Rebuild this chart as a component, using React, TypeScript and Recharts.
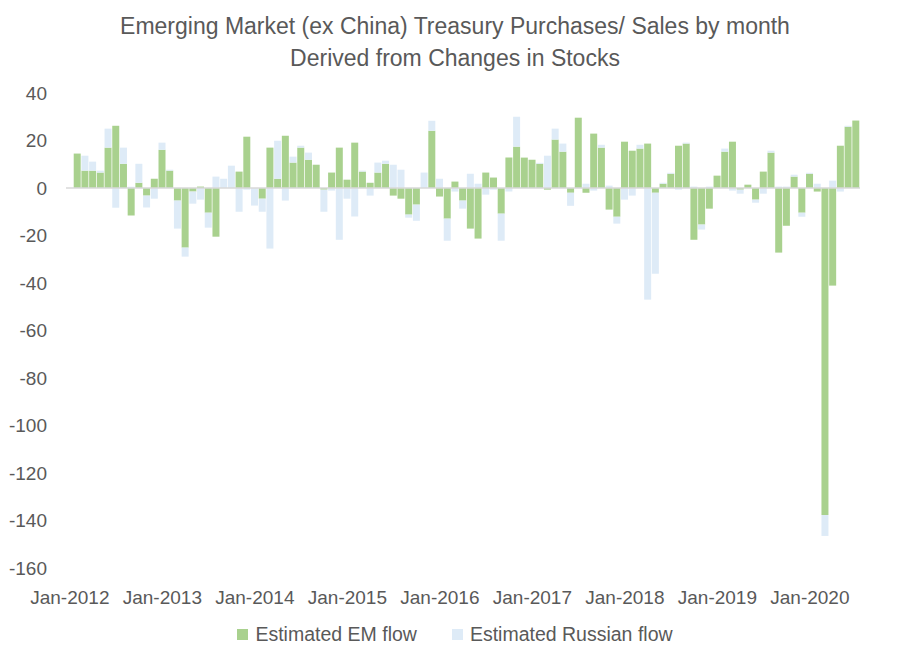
import { BarChart, Bar, XAxis, YAxis, ReferenceLine, Legend } from 'recharts';

const MONTHS = ['Jan', 'Feb', 'Mar', 'Apr', 'May', 'Jun', 'Jul', 'Aug', 'Sep', 'Oct', 'Nov', 'Dec'];
const YEARS = [2012, 2013, 2014, 2015, 2016, 2017, 2018, 2019, 2020];

// Jan-2012 .. Jul-2020
const categories = YEARS.flatMap((y) => MONTHS.map((m) => `${m}-${y}`)).slice(0, 103);

const emFlow: (number | null)[] = [
  null, 14.5, 7.3, 7.3, 6.5, 17, 26.2, 10.2, -11.6, 2.2, -3.2, 3.9,
  16.1, 7.3, -5.3, -25.1, -1.5, 0.6, -10.4, -20.5, 0, 0, 6.9, 21.6,
  0, -4.5, 17, 3.9, 22, 10.7, 17, 11.9, 9.8, -0.7, 6.5, 17,
  3.5, 19.1, 6.9, 2.2, 6.5, 10.2, -3.2, -4.5, -11.2, -7, 0, 24.1,
  -3.6, -12.9, 2.7, -5.3, -17.1, -21.3, 6.5, 4.4, -10.8, 12.8, 17.4, 12.8,
  11.9, 10.2, -0.7, 20.4, 15.3, -2, 29.6, -2, 22.9, 17, -9.1, -12.1,
  19.5, 15.7, 16.6, 18.7, -2, 1.8, 6, 17.8, 18.7, -21.8, -15.4, -8.7,
  5.2, 15.3, 19.5, -0.7, 1.4, -4.9, 6.9, 14.9, -27.2, -15.9, 4.8, -10.4,
  6, -1.5, -137.7, -41.1, 17.8, 25.8, 28.4,
];

const russianFlow: (number | null)[] = [
  null, 0, 6.3, 3.8, 0.8, 8, -8.3, 6.8, 0.5, 8, -5, -4.5,
  3, 0.4, -11.8, -3.8, -5.1, -4.9, -6.3, 4.8, 3.9, 9.4, -10, -0.7,
  -7.4, -5.5, -25.5, 16, -5.3, 2.5, 0.8, 3, 0, -9.3, -1.1, -21.8,
  -4.5, -12, 0.4, -3.2, 4.2, 1.3, 9.8, 7.7, -1.3, -6.8, 6.5, 4.2,
  3.9, -9.3, -1.5, -3.4, 6, 1.8, -2.8, -0.7, -11.4, -1.5, 12.6, 0,
  0, 0.4, 13.6, 4.6, 3.4, -5.5, 0, 1.8, -1.1, 1.2, 1, -2.9,
  -4.9, -3.2, 1.6, -47, -34.1, 0.4, 0.4, -0.7, 0.4, 0.6, -2.1, 0.6,
  0, 1.3, -1.1, -1.7, 0, -1.3, -2.4, 0.8, 0.6, 0.6, 0.8, -1.7,
  0.4, 1.8, -8.8, 3.1, -1.5, 0.4, 0,
];

const yTicks = [40, 20, 0, -20, -40, -60, -80, -100, -120, -140, -160];

const titleLines = [
  'Emerging Market (ex China) Treasury Purchases/ Sales by month',
  'Derived from Changes in Stocks',
];

const GREEN = '#A9D18E';
const LIGHT = '#DEEBF7';
const TEXT = '#595959';
const FONT = '"Liberation Sans", Arial, sans-serif';

const data = categories.map((month, i) => ({
  month,
  em: emFlow[i],
  russian: russianFlow[i],
}));

function LegendContent() {
  const items = [
    { label: 'Estimated EM flow', color: GREEN },
    { label: 'Estimated Russian flow', color: LIGHT },
  ];
  return (
    <div style={{ display: 'flex', justifyContent: 'center', gap: 35, fontFamily: FONT, fontSize: 19.5, color: TEXT }}>
      {items.map((it) => (
        <div key={it.label} style={{ display: 'flex', alignItems: 'center' }}>
          <span style={{ width: 11, height: 11, background: it.color, marginRight: 7, display: 'inline-block' }} />
          <span>{it.label}</span>
        </div>
      ))}
    </div>
  );
}

export default function App() {
  return (
    <div style={{ position: 'absolute', left: 0, top: 0, width: 910, height: 661, background: '#fff' }}>
      <div
        style={{
          position: 'absolute',
          top: 10,
          left: 0,
          width: 910,
          textAlign: 'center',
          fontFamily: FONT,
          fontSize: 23,
          lineHeight: '32px',
          color: TEXT,
        }}
      >
        {titleLines.map((t) => (
          <div key={t}>{t}</div>
        ))}
      </div>
      <BarChart
        width={910}
        height={661}
        data={data}
        stackOffset="sign"
        margin={{ top: 93, right: 50, left: 0, bottom: 0 }}
      >
        <XAxis
          dataKey="month"
          interval={11}
          axisLine={false}
          tickLine={false}
          tickSize={0}
          tickMargin={23}
          height={93}
          tick={{ fill: TEXT, fontSize: 19, fontFamily: FONT }}
        />
        <YAxis
          domain={[-160, 40]}
          ticks={yTicks}
          width={66}
          axisLine={false}
          tickLine={false}
          tickSize={0}
          tickMargin={19}
          tick={{ fill: TEXT, fontSize: 19, fontFamily: FONT }}
        />
        <Legend
          layout="horizontal"
          verticalAlign="middle"
          align="center"
          wrapperStyle={{ top: 623, left: 0, width: 910 }}
          content={<LegendContent />}
        />
        <Bar dataKey="em" stackId="flow" fill={GREEN} barSize={7} isAnimationActive={false} />
        <Bar dataKey="russian" stackId="flow" fill={LIGHT} barSize={7} isAnimationActive={false} />
        <ReferenceLine y={0} stroke="#D9D9D9" strokeWidth={1.5} />
      </BarChart>
    </div>
  );
}
